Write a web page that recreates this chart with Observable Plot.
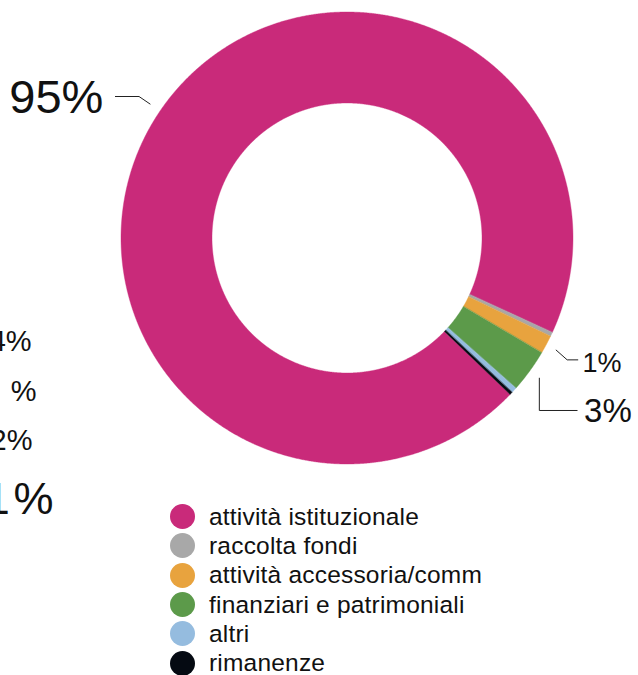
<!DOCTYPE html>
<html><head><meta charset="utf-8">
<script src="https://cdn.jsdelivr.net/npm/d3@7"></script>
<script src="https://cdn.jsdelivr.net/npm/@observablehq/plot@0.6"></script>
<style>
body{margin:0;background:#fff;font-family:"Liberation Sans",Arial,Helvetica,sans-serif;}
#legend{margin-left:170px;padding-top:12px;}
.row{display:flex;align-items:center;height:29.3px;font-size:24.5px;letter-spacing:0.2px;color:#111;white-space:nowrap;}
.sw{width:25px;height:25px;border-radius:50%;margin-right:14px;flex:none;}
</style></head><body>
<div id="chart"></div>
<div id="legend"></div>
<script>
// ---- data ----
const categories = ["attività istituzionale", "raccolta fondi", "attività accessoria/comm", "finanziari e patrimoniali", "altri", "rimanenze"];
const values = [94.7, 0.3, 1.3, 3.1, 0.4, 0.2];
const colors = ["#C92A7A", "#A8A8A8", "#E8A33E", "#5C9A4A", "#95BCDF", "#050A12"];
const leftLabels = ["4%", "1\u2002%", "2%", "1\u200A%"]; // partially visible labels of a neighbouring chart

// ---- layout (annotation placement, in radius units) ----
const startDeg = 133.8;
const innerRatio = 135 / 226;
const labelLayout = {
  "attività istituzionale": {r1: 1.057, elbow: {r: 1.116}, endX: -1.027, textX: -1.080, textY: 0.5575, size: 47, anchor: "end"},
  "attività accessoria/comm": {r1: 1.047, elbow: {x: 0.972, y: -0.537}, endX: 1.019, textX: 1.040, textY: -0.592, size: 27, anchor: "start"},
  "finanziari e patrimoniali": {r1: 1.05, elbow: {y: -0.761}, endX: 1.016, textX: 1.047, textY: -0.813, size: 33, anchor: "start"}
};
const leftLayout = [
  {x: -1.398, y: -0.496, size: 29},
  {x: -1.376, y: -0.717, size: 29},
  {x: -1.394, y: -0.938, size: 29},
  {x: -1.301, y: -1.217, size: 45}
];

// ---- geometry from values ----
const a0 = startDeg * Math.PI / 180;
const arcs = d3.pie().sort(null).startAngle(a0).endAngle(a0 + 2 * Math.PI)(values);
const ring = [];
arcs.forEach((a, i) => {
  const n = Math.max(2, Math.ceil((a.endAngle - a.startAngle) / (0.25 * Math.PI / 180)));
  for (let k = 0; k <= n; k++) {
    const t = a.startAngle + (a.endAngle - a.startAngle) * k / n;
    ring.push({cat: categories[i], x1: Math.sin(t), y1: Math.cos(t), x2: innerRatio * Math.sin(t), y2: innerRatio * Math.cos(t)});
  }
});

const leaders = [], labels = [];
arcs.forEach((a, i) => {
  const cat = categories[i];
  const L = labelLayout[cat];
  if (!L) return;
  const m = (a.startAngle + a.endAngle) / 2;
  const sx = L.r1 * Math.sin(m), sy = L.r1 * Math.cos(m);
  let ex, ey;
  if (L.elbow.r != null) { ex = L.elbow.r * Math.sin(m); ey = L.elbow.r * Math.cos(m); }
  else { ex = L.elbow.x != null ? L.elbow.x : sx; ey = L.elbow.y; }
  leaders.push({cat, x: sx, y: sy}, {cat, x: ex, y: ey}, {cat, x: L.endX, y: ey});
  labels.push({text: Math.round(values[i]) + "%", x: L.textX, y: L.textY, size: L.size, anchor: L.anchor});
});
const left = leftLabels.map((t, i) => ({text: t, ...leftLayout[i]}));

const plot = Plot.plot({
  width: 638, height: 490,
  marginLeft: 121, marginRight: 65, marginTop: 12, marginBottom: 26,
  style: {overflow: "visible", fontFamily: "'Liberation Sans', Arial, Helvetica, sans-serif", background: "white"},
  x: {domain: [-1, 1], axis: null},
  y: {domain: [-1, 1], axis: null},
  color: {domain: categories, range: colors},
  marks: [
    Plot.area(ring, {x1: "x1", y1: "y1", x2: "x2", y2: "y2", z: "cat", fill: "cat", stroke: "cat", strokeWidth: 0.4, curve: "linear"}),
    Plot.line(leaders, {x: "x", y: "y", z: "cat", stroke: "#222", strokeWidth: 1}),
    Plot.text(labels.filter(d => d.anchor === "end"), {x: "x", y: "y", text: "text", fontSize: "size", textAnchor: "end", lineAnchor: "bottom", fill: "#111"}),
    Plot.text(labels.filter(d => d.anchor === "start"), {x: "x", y: "y", text: "text", fontSize: "size", textAnchor: "start", lineAnchor: "bottom", fill: "#111"}),
    Plot.text(left, {x: "x", y: "y", text: "text", fontSize: "size", textAnchor: "end", lineAnchor: "bottom", fill: "#111"})
  ]
});
document.getElementById("chart").appendChild(plot);

const legend = document.getElementById("legend");
categories.forEach((c, i) => {
  const row = document.createElement("div");
  row.className = "row";
  const sw = document.createElement("span");
  sw.className = "sw";
  sw.style.background = colors[i];
  const lab = document.createElement("span");
  lab.textContent = c;
  row.appendChild(sw); row.appendChild(lab);
  legend.appendChild(row);
});
</script>
</body></html>
